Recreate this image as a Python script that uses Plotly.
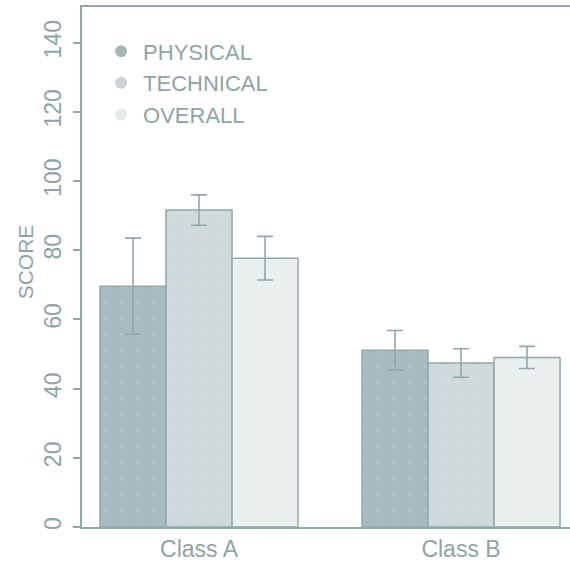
import plotly.graph_objects as go

categories = ["Class A", "Class B"]
series_names = ["PHYSICAL", "TECHNICAL", "OVERALL"]
physical = [69.6, 51.1]
physical_err = [13.9, 5.7]
technical = [91.6, 47.4]
technical_err = [4.4, 4.1]
overall = [77.7, 49.0]
overall_err = [6.3, 3.2]
y_ticks = [0, 20, 40, 60, 80, 100, 120, 140]

values = [physical, technical, overall]
errors = [physical_err, technical_err, overall_err]
fills = ["#a7babd", "#cfd8db", "#e9eeef"]
legend_cols = ["#a3b7ba", "#c9d3d6", "#e4e9ea"]
edge = "#8fa8ac"
txt = "#8ea4a7"
FONT = "Liberation Sans, Arial, sans-serif"

fig = go.Figure()
for name, v, e, c in zip(series_names, values, errors, fills):
    fig.add_trace(go.Bar(
        x=categories, y=v, name=name, showlegend=False,
        marker=dict(color=c, line=dict(color=edge, width=1.5),
                    pattern=dict(shape=".", fgcolor="rgba(255,255,255,0.22)",
                                 bgcolor=c, size=16, solidity=0.06)),
        error_y=dict(type="data", array=e, visible=True, color=edge,
                     thickness=1.6, width=8),
    ))

for name, c in zip(series_names, legend_cols):
    fig.add_trace(go.Scatter(
        x=[None], y=[None], mode="markers", name=name,
        marker=dict(symbol="circle", size=11, color=c),
    ))

fig.update_layout(
    width=570, height=562,
    margin=dict(l=82, r=0, t=7, b=29),
    paper_bgcolor="white", plot_bgcolor="white",
    barmode="group", bargap=0.244, bargroupgap=0,
    font=dict(family=FONT, size=22, color=txt),
    showlegend=True,
    legend=dict(x=0.035, y=0.955, xanchor="left", yanchor="top",
                bgcolor="rgba(0,0,0,0)", font=dict(size=22, color=txt),
                itemsizing="constant", itemwidth=34),
    xaxis=dict(range=[-0.4466, 1.416], showline=True, mirror=True,
               linecolor=edge, linewidth=2, ticks="", showgrid=False,
               zeroline=False, tickfont=dict(size=23, color=txt)),
    yaxis=dict(range=[0, 150.3], showline=True, linecolor=edge, linewidth=2,
               ticks="outside", ticklen=7, tickwidth=2, tickcolor=edge,
               tickvals=y_ticks, ticktext=[str(t) for t in y_ticks],
               tickangle=-90, showgrid=False, zeroline=False,
               tickfont=dict(size=23, color=txt), ticklabelstandoff=3),
    shapes=[dict(type="line", xref="paper", yref="y", x0=-0.02, x1=0,
                 y0=0, y1=0, line=dict(color=edge, width=2))],
    annotations=[dict(text="SCORE", xref="paper", yref="y", x=0, y=76.5,
                      xanchor="center", yanchor="middle",
                      xshift=-57, textangle=-90, showarrow=False,
                      font=dict(size=21, color=txt))],
)

fig.write_html("out.html", config={"displayModeBar": False},
               post_script="document.body.style.margin='0';document.body.style.padding='0';document.body.style.overflow='hidden';")
